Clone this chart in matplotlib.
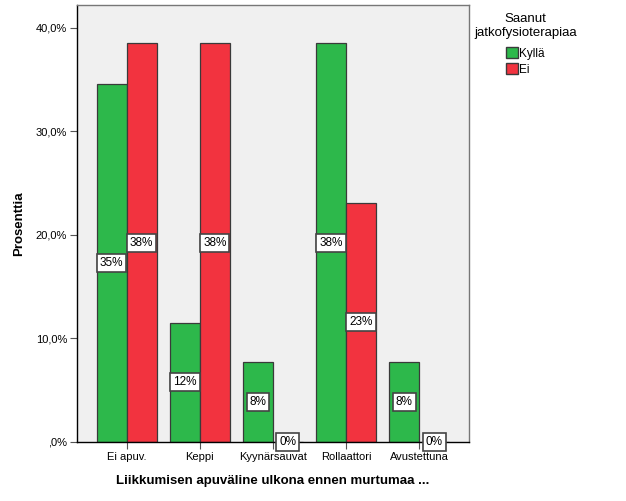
import matplotlib
matplotlib.use("Agg")
import matplotlib.pyplot as plt
import numpy as np
from matplotlib.patches import Patch

plt.rcParams['font.family'] = ['Liberation Sans', 'DejaVu Sans']

categories = ["Ei apuv.", "Keppi", "Kyynärsauvat", "Rollaattori", "Avustettuna"]
kylla = [34.6, 11.5, 7.7, 38.5, 7.7]
ei = [38.5, 38.5, 0.0, 23.1, 0.0]
kylla_labels = ["35%", "12%", "8%", "38%", "8%"]
ei_labels = ["38%", "38%", "0%", "23%", "0%"]
yticks = [0, 10, 20, 30, 40]
ytick_labels = [",0%", "10,0%", "20,0%", "30,0%", "40,0%"]

green = "#2db84b"
red = "#f2333f"

fig = plt.figure(figsize=(6.26, 5.01), dpi=100)
ax = fig.add_axes([0.123, 0.118, 0.626, 0.872])
ax.set_facecolor("#f0f0f0")

x = np.arange(len(categories))
w = 0.41
ax.bar(x - w/2, kylla, w, color=green, edgecolor="#3a3a3a", linewidth=0.9, zorder=2)
ax.bar(x + w/2, ei, w, color=red, edgecolor="#3a3a3a", linewidth=0.9, zorder=2)

box = dict(boxstyle="square,pad=0.25", facecolor="white", edgecolor="#444444", linewidth=1.2)
for i in range(len(categories)):
    ax.text(x[i] - w/2, kylla[i] / 2, kylla_labels[i], ha="center", va="center",
            fontsize=8.5, bbox=box, zorder=4)
    ax.text(x[i] + w/2, ei[i] / 2, ei_labels[i], ha="center", va="center",
            fontsize=8.5, bbox=box, zorder=4, clip_on=False)

ax.set_xlim(-0.68, 4.68)
ax.set_ylim(0, 42.2)
ax.set_xticks(x)
ax.set_xticklabels(categories, fontsize=8)
ax.set_yticks(yticks)
ax.set_yticklabels(ytick_labels, fontsize=8)
ax.tick_params(axis="x", length=5, color="#555555", pad=2)
ax.tick_params(axis="y", length=5, color="#555555", pad=2)

for s in ["left", "bottom"]:
    ax.spines[s].set_color("black")
    ax.spines[s].set_linewidth(1)
for s in ["top", "right"]:
    ax.spines[s].set_color("#777777")
    ax.spines[s].set_linewidth(1)

ax.set_ylabel("Prosenttia", fontsize=9.5, fontweight="bold", labelpad=8)
ax.set_xlabel("Liikkumisen apuväline ulkona ennen murtumaa ...", fontsize=9.5,
              fontweight="bold", labelpad=10)

handles = [Patch(facecolor=green, edgecolor="#3a3a3a", label="Kyllä"),
           Patch(facecolor=red, edgecolor="#3a3a3a", label="Ei")]
leg = fig.legend(handles=handles, title="Saanut\njatkofysioterapiaa",
                 loc="upper left", bbox_to_anchor=(0.744, 0.99), frameon=False,
                 fontsize=8.5, title_fontsize=9.5, handlelength=1.0, handleheight=1.0,
                 handletextpad=0.15, labelspacing=0.3, borderpad=0.2)
leg._legend_box.align = "center"
leg._legend_box.sep = 6
leg.get_title().set_multialignment("center")

fig.savefig("out.png", dpi=100)
